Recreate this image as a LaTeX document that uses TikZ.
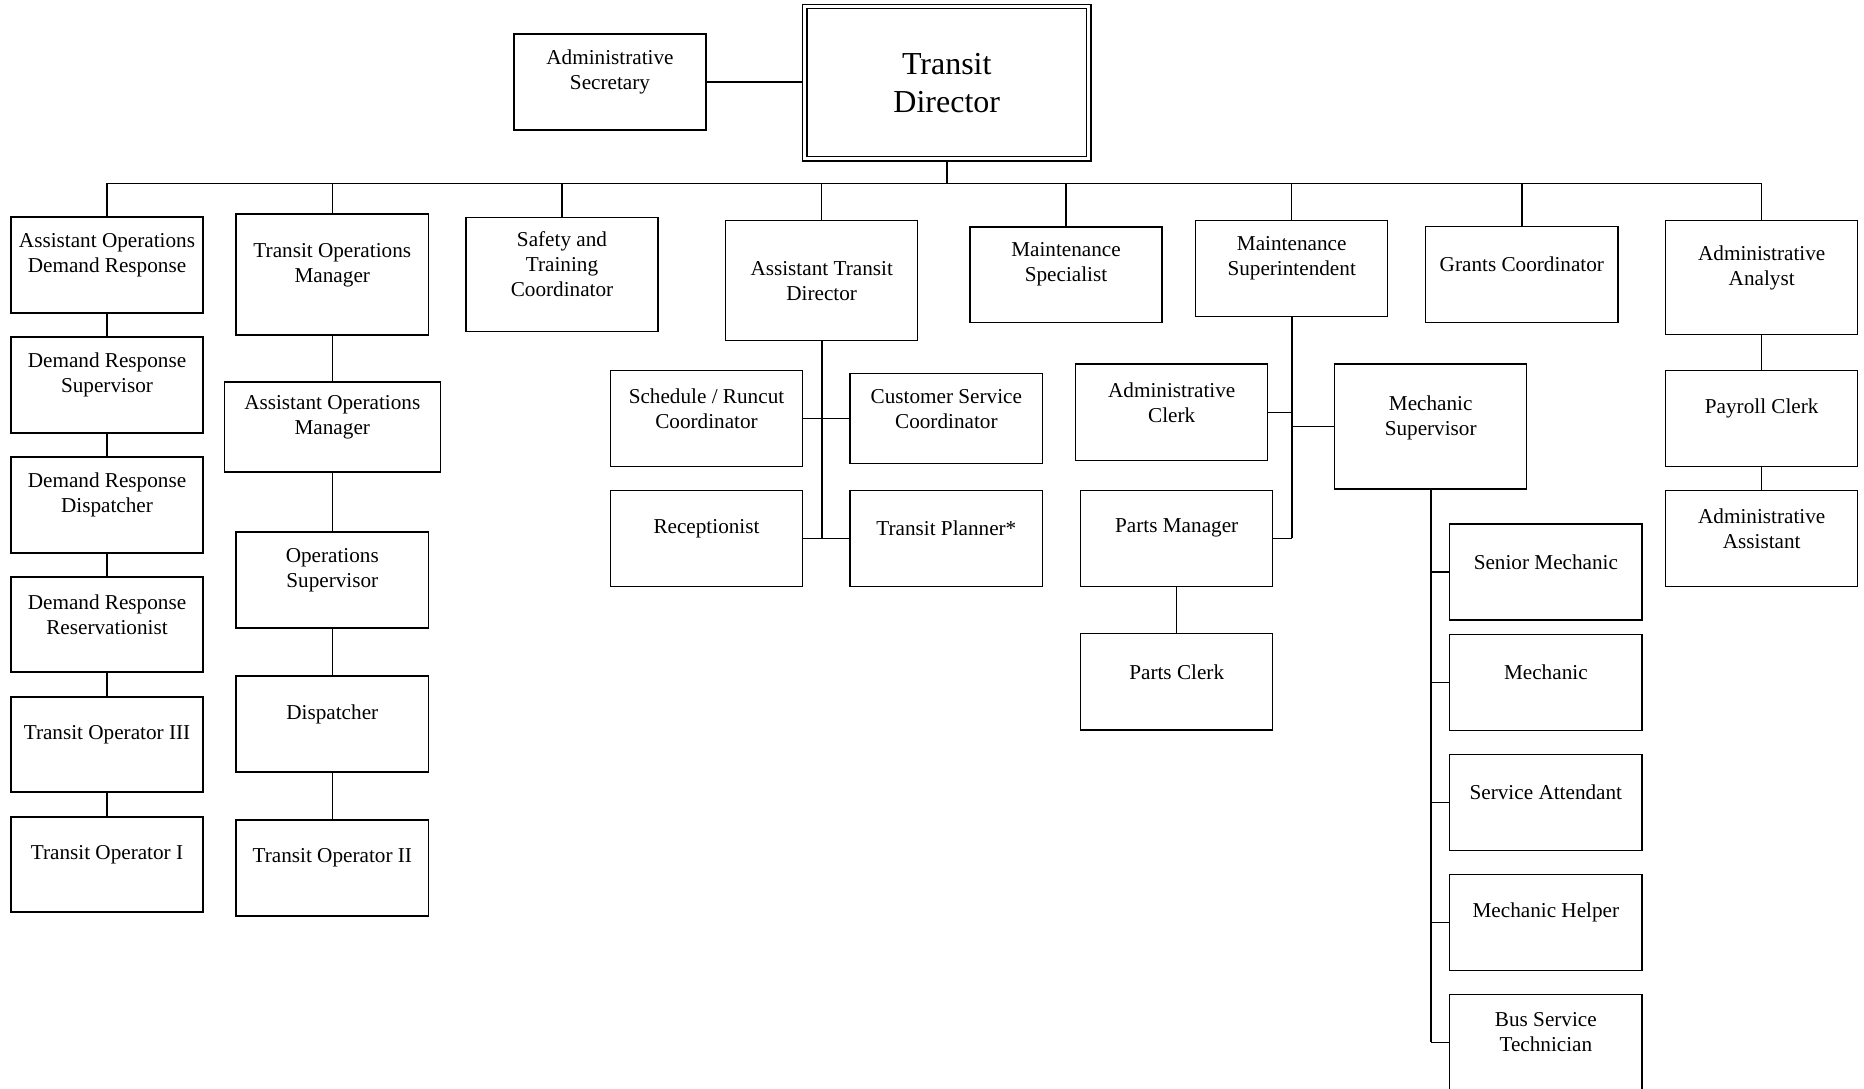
\documentclass[tikz,border=0pt]{standalone}
\usepackage{fontspec}
\setmainfont{Liberation Serif}
\usetikzlibrary{backgrounds}
\tikzset{
  orgbox/.style={draw, rectangle, line width=1.3pt, fill=white, inner sep=0pt},
  txt/.style={align=center, font=\fontsize{21.2}{25}\selectfont, inner sep=0pt},
  conn/.style={line width=1.3pt},
  thickconn/.style={line width=2pt},
}
\newcommand{\obox}[7]{%
  \node[orgbox, minimum width={(#4-#2)*1pt}, minimum height={(#5-#3)*1pt},
        label={[txt, name=#1-t, yshift=#6pt]center:{#7}}] (#1) at ({(#2+#4)/2},{(#3+#5)/2}) {};}
\begin{document}
\begin{tikzpicture}[x=1pt,y=-1pt]
\useasboundingbox (0,0) rectangle (1864,1089);
% top
\obox{adsec}{514}{34}{706}{130}{10}{Administrative\\Secretary}
\node[orgbox, double, double distance=3pt, minimum width=284pt, minimum height=152.3pt,
      font=\fontsize{32}{38}\selectfont, align=center] (td) at (946.75,82.6) {Transit\\Director};
% column 1
\obox{aodr}{11}{217}{203}{313}{10}{Assistant Operations\\Demand Response}
\obox{drs}{11}{337}{203}{433}{10}{Demand Response\\Supervisor}
\obox{drd}{11}{457}{203}{553}{10}{Demand Response\\Dispatcher}
\obox{drr}{11}{577}{203}{672}{10}{Demand Response\\Reservationist}
\obox{toiii}{11}{697}{203}{792}{10}{Transit Operator III}
\obox{toi}{11}{817}{203}{912}{10}{Transit Operator I}
% column 2
\obox{tom}{236}{214}{428.6}{335}{9.5}{Transit Operations\\Manager}
\obox{aom}{224.3}{382}{440.3}{472}{9.5}{Assistant Operations\\Manager}
\obox{opsup}{236}{532}{428.6}{628}{10}{Operations\\Supervisor}
\obox{disp}{236}{676}{428.6}{772}{10}{Dispatcher}
\obox{toii}{236}{820}{428.6}{916}{10}{Transit Operator II}
% safety
\obox{safety}{466}{217.5}{658}{331.7}{10}{Safety and\\Training\\Coordinator}
% assistant transit director
\obox{atd}{725.7}{220.7}{917.7}{340.3}{-1}{Assistant Transit\\Director}
\obox{sched}{610.7}{370.7}{802.3}{466.3}{9.5}{Schedule / Runcut\\Coordinator}
\obox{custsvc}{850}{373.3}{1042.7}{463.3}{9.5}{Customer Service\\Coordinator}
\obox{recep}{610.7}{490.3}{802.3}{586.7}{10}{Receptionist}
\obox{planner}{850}{490.3}{1042.7}{586.7}{10}{Transit Planner*}
% maintenance
\obox{maintspec}{970}{227}{1162}{322.3}{10}{Maintenance\\Specialist}
\obox{msup}{1195.7}{220.7}{1387.7}{316.3}{10}{Maintenance\\Superintendent}
\obox{adclerk}{1075.7}{364}{1267.7}{460.3}{9.5}{Administrative\\Clerk}
\obox{mechsup}{1334.7}{364}{1526.7}{489}{9}{Mechanic\\Supervisor}
\obox{partsmgr}{1080.7}{490.3}{1272.7}{586.3}{10}{Parts Manager}
\obox{partsclerk}{1080.7}{633.6}{1272.7}{730}{10}{Parts Clerk}
% mechanics
\obox{senmech}{1449.7}{524}{1642}{620}{10}{Senior Mechanic}
\obox{mech}{1449.7}{634.4}{1642}{730.4}{10}{Mechanic}
\obox{svcatt}{1449.7}{754.2}{1642}{850.2}{10}{Service Attendant}
\obox{mechhelp}{1449.7}{874.2}{1642}{970.2}{10}{Mechanic Helper}
\obox{bst}{1449.7}{994.2}{1642}{1090.2}{10}{Bus Service\\Technician}
% grants and admin analyst
\obox{grants}{1425.7}{226.7}{1618}{322.3}{10}{Grants Coordinator}
\obox{adanalyst}{1665.7}{220.7}{1857.7}{334.7}{10}{Administrative\\Analyst}
\obox{payroll}{1665.7}{370.7}{1857.7}{466.3}{10}{Payroll Clerk}
\obox{adassist}{1665.7}{490.3}{1857.7}{586.3}{10}{Administrative\\Assistant}

\begin{scope}[on background layer]
  \coordinate (busL) at (107,183.3);
  \coordinate (busR) at (1761.7,183.3);
  \draw[conn] (busL) -- (busR);
  \draw[thickconn] (td.south) -- (td.south |- busL);
  \draw[conn] (adsec.east) -- (adsec.east -| td.west);
  \foreach \n in {aodr,tom,safety,atd,maintspec,msup,grants,adanalyst}
    \draw[conn] (\n.north) -- (\n.north |- busL);
  % column 1
  \draw[conn] (aodr.south) -- (drs.north);
  \draw[conn] (drs.south) -- (drd.north);
  \draw[conn] (drd.south) -- (drr.north);
  \draw[conn] (drr.south) -- (toiii.north);
  \draw[conn] (toiii.south) -- (toi.north);
  % column 2
  \draw[conn] (tom.south) -- (aom.north);
  \draw[conn] (aom.south) -- (opsup.north);
  \draw[conn] (opsup.south) -- (disp.north);
  \draw[conn] (disp.south) -- (toii.north);
  % ATD
  \draw[thickconn] (atd.south) -- (atd.south |- recep.east);
  \draw[conn] (sched.east) -- (sched.east -| custsvc.west);
  \draw[conn] (recep.east) -- (planner.west);
  % maintenance superintendent
  \draw[thickconn] (msup.south) -- (msup.south |- partsmgr.east);
  \draw[conn] (adclerk.east) -- (adclerk.east -| msup.south);
  \draw[conn] (mechsup.west) -- (mechsup.west -| msup.south);
  \draw[conn] (partsmgr.east) -- (partsmgr.east -| msup.south);
  \draw[conn] (partsmgr.south) -- (partsclerk.north);
  % mechanic supervisor
  \draw[thickconn] (mechsup.south) -- (mechsup.south |- bst.west);
  \foreach \m in {senmech,mech,svcatt,mechhelp,bst}
    \draw[conn] (\m.west) -- (\m.west -| mechsup.south);
  % admin analyst
  \draw[conn] (adanalyst.south) -- (payroll.north);
  \draw[conn] (payroll.south) -- (adassist.north);
\end{scope}
\end{tikzpicture}
\end{document}
